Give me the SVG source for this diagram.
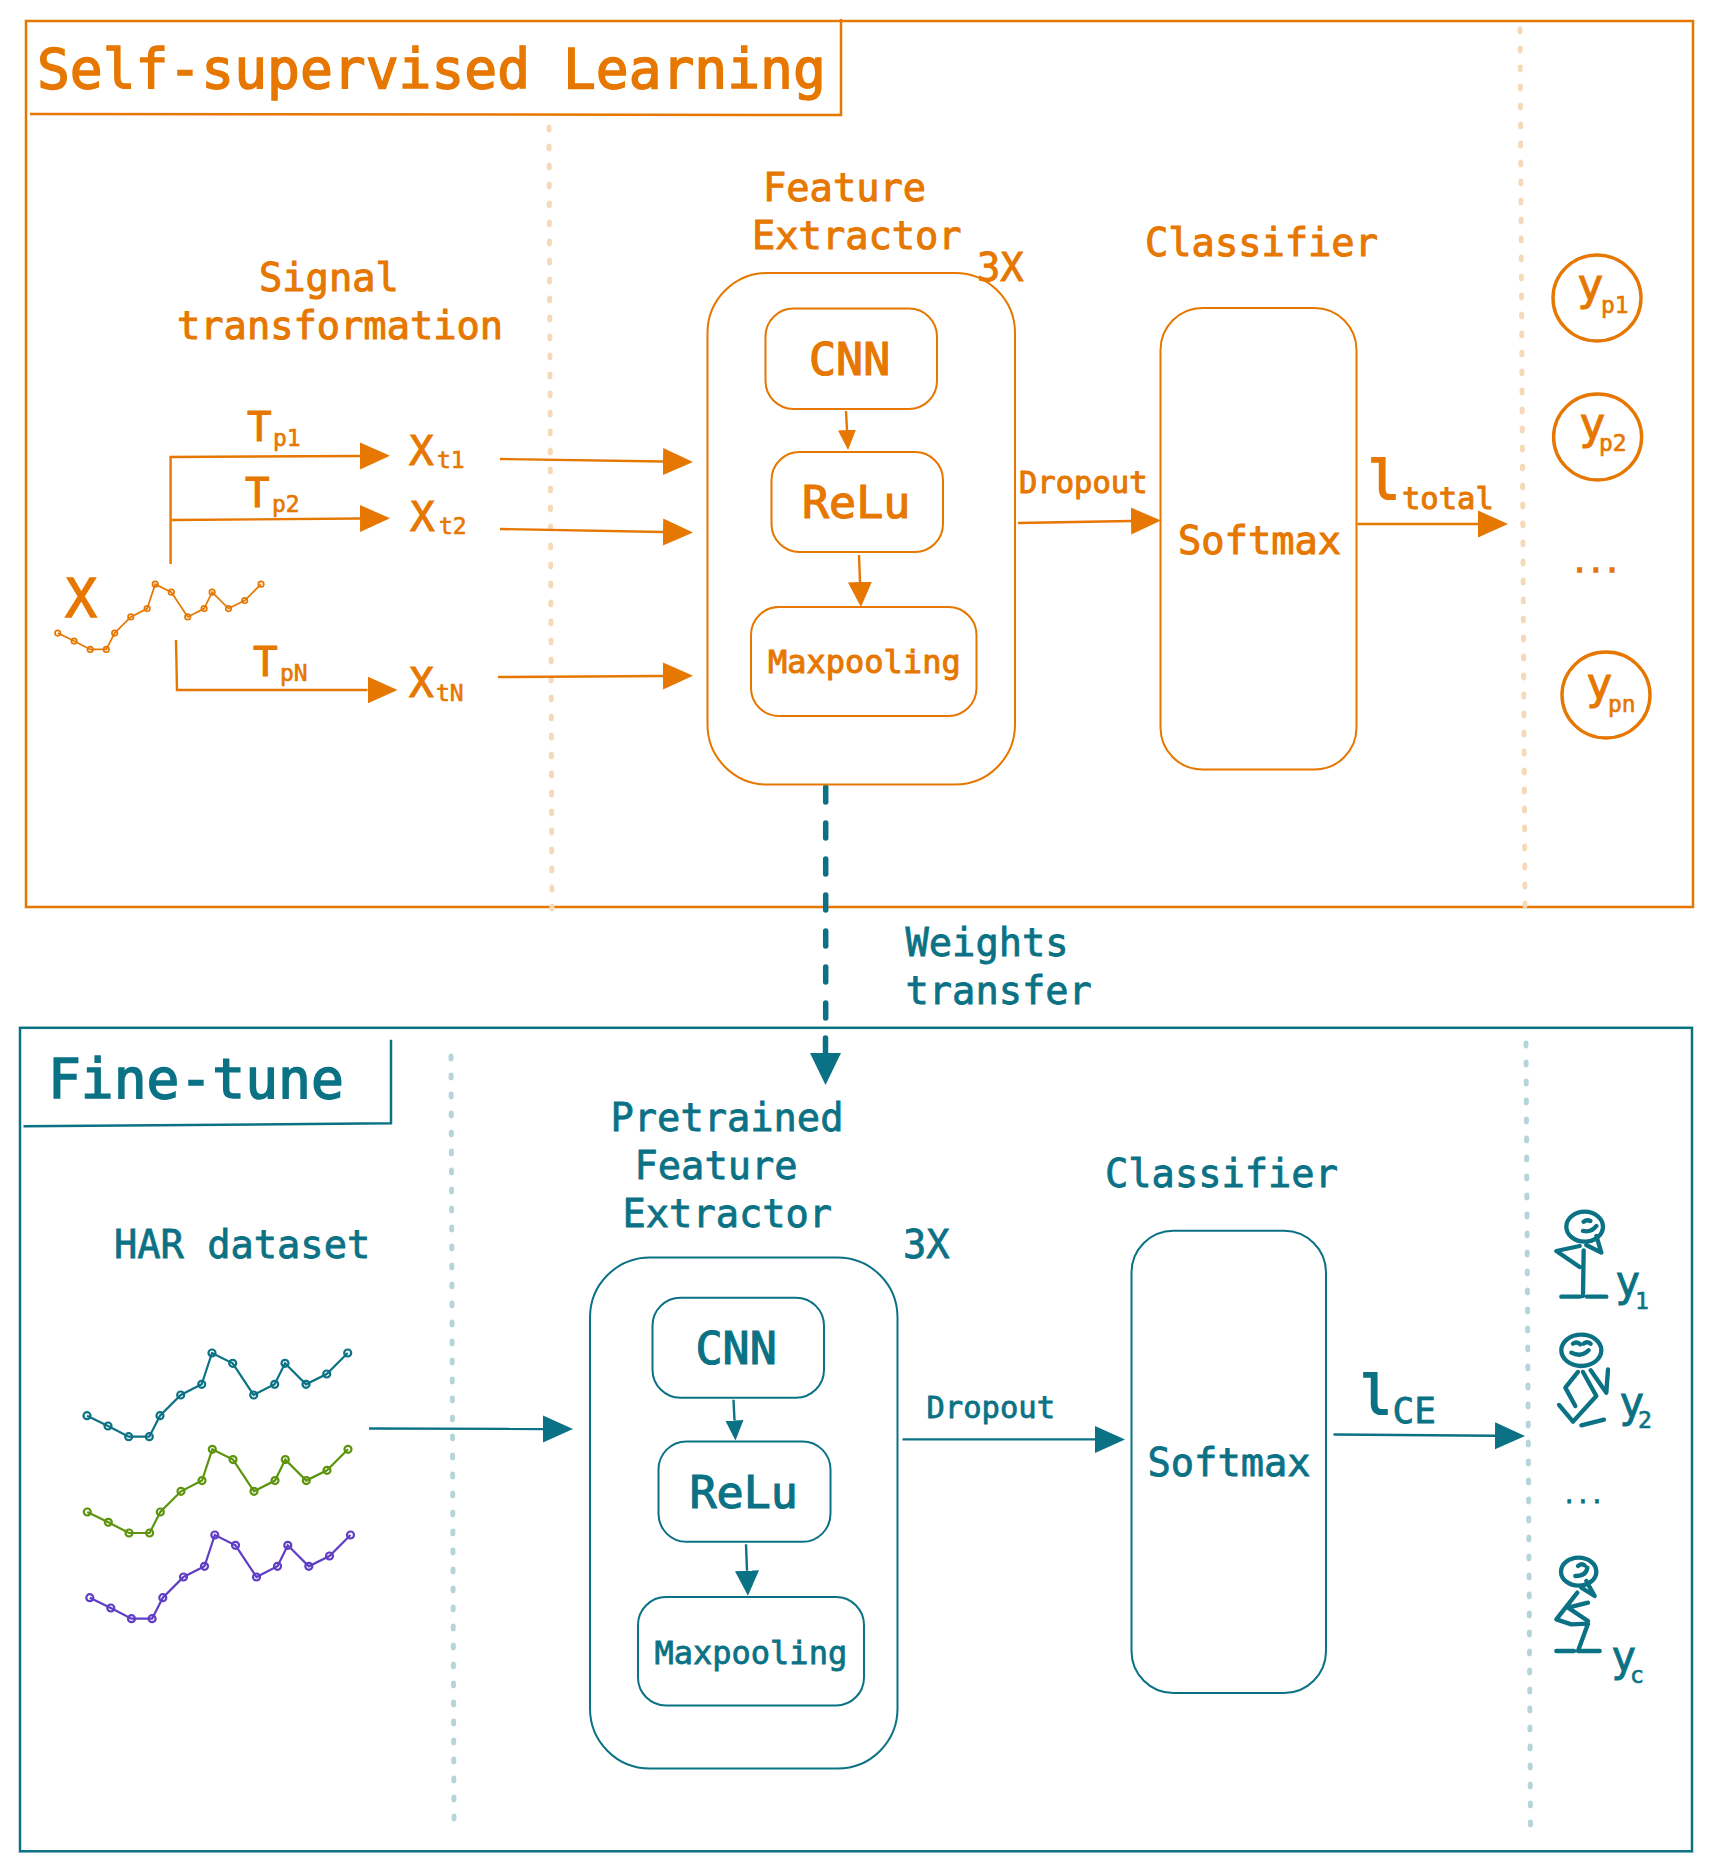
<svg xmlns="http://www.w3.org/2000/svg" width="1714" height="1871" viewBox="0 0 1714 1871">
<style>
text{font-family:"DejaVu Sans Mono","Liberation Mono",monospace;white-space:pre}
.o{fill:#e67700;stroke:#e67700;stroke-width:1}
.t{fill:#0b7285;stroke:#0b7285;stroke-width:.8}
.title{font-size:54.6px;stroke-width:1.5}
.lab{font-size:38.7px}
.cnn{font-size:45px;stroke-width:1.2}
.mp{font-size:32px}
.dr{font-size:30.5px}
.m{font-size:41px}
.s{font-size:23px;stroke-width:.6}
.big{font-size:53px;stroke-width:2}
.y{font-size:44px;stroke-width:1}
.box{fill:none;stroke-width:2}
.bo{stroke:#e67700}.bt{stroke:#0b7285}
.frame{fill:none;stroke-width:2.5}
.ln{fill:none;stroke-width:2.4}
.dot{fill:none;stroke-width:5;stroke-linecap:round;stroke-dasharray:3 16}
.do{stroke:#f6d9b8}.dt{stroke:#b6d5db}
.fig{fill:none;stroke:#0b7285;stroke-width:13;stroke-linecap:round;stroke-linejoin:round}
.circ{fill:none;stroke:#e67700;stroke-width:3.4}
</style>
<defs>
<marker id="ao" markerUnits="userSpaceOnUse" markerWidth="30" markerHeight="28" refX="0" refY="14" orient="auto"><path d="M0 .5L30 14L0 27.5Z" fill="#e67700"/></marker>
<marker id="aom" markerUnits="userSpaceOnUse" markerWidth="25" markerHeight="24" refX="0" refY="12" orient="auto"><path d="M0 0L25 12L0 24Z" fill="#e67700"/></marker>
<marker id="aos" markerUnits="userSpaceOnUse" markerWidth="20" markerHeight="18" refX="0" refY="9" orient="auto"><path d="M0 0L20 9L0 18Z" fill="#e67700"/></marker>
<marker id="at" markerUnits="userSpaceOnUse" markerWidth="30" markerHeight="28" refX="0" refY="14" orient="auto"><path d="M0 .5L30 14L0 27.5Z" fill="#0b7285"/></marker>
<marker id="atm" markerUnits="userSpaceOnUse" markerWidth="25" markerHeight="24" refX="0" refY="12" orient="auto"><path d="M0 0L25 12L0 24Z" fill="#0b7285"/></marker>
<marker id="ats" markerUnits="userSpaceOnUse" markerWidth="20" markerHeight="18" refX="0" refY="9" orient="auto"><path d="M0 0L20 9L0 18Z" fill="#0b7285"/></marker>
<g id="wave" fill="none" stroke-width="2.2">
<polyline points="87,1415.7 108,1426 128.7,1436.7 149.3,1436.7 160,1415.7 180.7,1395 201.7,1384.3 212,1353 232.7,1363.3 253.7,1395 274.7,1384.3 285,1363.3 306,1384.3 326.7,1374 347.7,1353"/>
<circle cx="87" cy="1415.7" r="3.5"/><circle cx="108" cy="1426" r="3.5"/><circle cx="128.7" cy="1436.7" r="3.5"/><circle cx="149.3" cy="1436.7" r="3.5"/><circle cx="160" cy="1415.7" r="3.5"/><circle cx="180.7" cy="1395" r="3.5"/><circle cx="201.7" cy="1384.3" r="3.5"/><circle cx="212" cy="1353" r="3.5"/><circle cx="232.7" cy="1363.3" r="3.5"/><circle cx="253.7" cy="1395" r="3.5"/><circle cx="274.7" cy="1384.3" r="3.5"/><circle cx="285" cy="1363.3" r="3.5"/><circle cx="306" cy="1384.3" r="3.5"/><circle cx="326.7" cy="1374" r="3.5"/><circle cx="347.7" cy="1353" r="3.5"/>
</g>
</defs>
<g id="self-supervised-frame">
<rect class="frame bo" x="26" y="21" width="1667" height="886"/>
<path class="frame bo" d="M30 114L841 115V19"/>
<text class="o title" x="37" y="88">Self-supervised Learning</text>
<path class="dot do" d="M549 127L552 912"/>
<path class="dot do" d="M1520 29L1525 906"/>
</g>
<g id="fine-tune-frame">
<rect class="frame bt" x="20" y="1027.8" width="1672" height="823.5"/>
<path class="frame bt" d="M23.5 1126.3L391 1123.3V1039.8"/>
<text class="t title" x="48" y="1098.4">Fine-tune</text>
<path class="dot dt" d="M451 1056L454 1820"/>
<path class="dot dt" d="M1526 1043L1530.5 1826"/>
</g>
<g id="connectors">
<g class="ln bo">
<path d="M170.6 564V457L360 456" marker-end="url(#ao)"/>
<path d="M172 520L360 518.5" marker-end="url(#ao)"/>
<path d="M176 640L177 690H367.5" marker-end="url(#ao)"/>
<path d="M500 459L663 461.5" marker-end="url(#ao)"/>
<path d="M500 529L663 532" marker-end="url(#ao)"/>
<path d="M498 677L663 676" marker-end="url(#ao)"/>
<path d="M846 411L847 430" marker-end="url(#aos)"/>
<path d="M859 555L860 582" marker-end="url(#aom)"/>
<path d="M1018 523L1131 521" marker-end="url(#ao)"/>
<path d="M1357.5 524H1478" marker-end="url(#ao)"/>
</g>
<g class="ln bt">
<path d="M369 1428.5L543 1429" marker-end="url(#at)"/>
<path d="M733.5 1399.7L734.5 1420.5" marker-end="url(#ats)"/>
<path d="M746 1544.3L747 1570.7" marker-end="url(#atm)"/>
<path d="M902.6 1439.4H1095" marker-end="url(#at)"/>
<path d="M1333.5 1434.5L1495 1435.8" marker-end="url(#at)"/>
<path d="M825.7 787V1020" style="stroke-width:5.5;stroke-linecap:round;stroke-dasharray:15 21"/>
<path d="M825.5 1038V1053" style="stroke-width:5.5;stroke-linecap:round"/>
<path d="M810 1053H841L825.5 1085Z" fill="#0b7285" stroke="none"/>
</g>
</g>
<g id="signal-transformation">
<text class="o lab" x="259" y="291">Signal</text>
<text class="o lab" x="177" y="339">transformation</text>
</g>
<g id="input-x">
<text class="o" style="font-size:53px;stroke-width:1.4" x="65" y="617">X</text>
<use href="#wave" stroke="#e67700" transform="translate(-10.16 -471.2) scale(.78)"/>
</g>
<g id="tp1"><text class="o m" x="247" y="441">T</text><text class="o s" x="273" y="446">p1</text></g>
<g id="tp2"><text class="o m" x="245" y="507">T</text><text class="o s" x="272" y="512">p2</text></g>
<g id="tpn"><text class="o m" x="253" y="676">T</text><text class="o s" x="280" y="681">pN</text></g>
<g id="xt1"><text class="o m" x="409" y="465">X</text><text class="o s" x="437" y="468">t1</text></g>
<g id="xt2"><text class="o m" x="410" y="531">X</text><text class="o s" x="439" y="534">t2</text></g>
<g id="xtn"><text class="o m" x="409" y="697">X</text><text class="o s" x="436" y="701">tN</text></g>
<g id="feature-extractor">
<text class="o lab" x="763" y="201">Feature</text>
<text class="o lab" x="752" y="249">Extractor</text>
<text class="o lab" x="977" y="281">3X</text>
<rect class="box bo" x="707.5" y="273" width="307.5" height="511.5" rx="60"/>
</g>
<g id="cnn-o"><rect class="box bo" x="765.5" y="308.5" width="171.5" height="100.5" rx="28"/><text class="o cnn" x="809" y="375">CNN</text></g>
<g id="relu-o"><rect class="box bo" x="771.5" y="452" width="171.5" height="100" rx="28"/><text class="o cnn" x="802" y="518">ReLu</text></g>
<g id="maxpool-o"><rect class="box bo" x="751" y="607" width="225.5" height="109" rx="28"/><text class="o mp" x="768" y="673">Maxpooling</text></g>
<g id="dropout-o"><text class="o dr" x="1019" y="493">Dropout</text></g>
<g id="classifier-o">
<text class="o lab" x="1145" y="256">Classifier</text>
<rect class="box bo" x="1160.5" y="308" width="196" height="461.5" rx="42"/>
<text class="o lab" x="1178" y="554">Softmax</text>
</g>
<g id="loss-total"><text class="o big" x="1368" y="499">l</text><text class="o dr" x="1402" y="509">total</text></g>
<g id="yp1"><ellipse class="circ" cx="1597" cy="298" rx="44" ry="43"/><text class="o y" x="1577" y="300">y</text><text class="o s" x="1601" y="313">p1</text></g>
<g id="yp2"><ellipse class="circ" cx="1597.6" cy="437" rx="44" ry="43"/><text class="o y" x="1579" y="439">y</text><text class="o s" x="1599" y="451">p2</text></g>
<g id="dots-o"><text class="o" style="font-size:27px;stroke-width:1.6" x="1596" y="572" text-anchor="middle">...</text></g>
<g id="ypn"><ellipse class="circ" cx="1606" cy="695" rx="44" ry="43"/><text class="o y" x="1586" y="699">y</text><text class="o s" x="1608" y="712">pn</text></g>
<g id="weights-transfer">
<text class="t lab" x="905.5" y="956">Weights</text>
<text class="t lab" x="905.5" y="1004">transfer</text>
</g>
<g id="har-dataset">
<text class="t lab" x="114" y="1257.5">HAR dataset</text>
<use href="#wave" stroke="#0b7285"/>
<use href="#wave" stroke="#5c940d" transform="translate(.3 96.3)"/>
<use href="#wave" stroke="#5f3dc4" transform="translate(2.8 182)"/>
</g>
<g id="pretrained-extractor">
<text class="t lab" x="610.5" y="1131">Pretrained</text>
<text class="t lab" x="634.5" y="1179">Feature</text>
<text class="t lab" x="622.5" y="1227">Extractor</text>
<text class="t lab" x="903" y="1257.5">3X</text>
<rect class="box bt" x="590" y="1257.5" width="307.5" height="511" rx="60"/>
</g>
<g id="cnn-t"><rect class="box bt" x="652.5" y="1297.7" width="171.5" height="100" rx="28"/><text class="t cnn" x="695.5" y="1364">CNN</text></g>
<g id="relu-t"><rect class="box bt" x="658.5" y="1441.4" width="172" height="100.4" rx="28"/><text class="t cnn" x="689.5" y="1508">ReLu</text></g>
<g id="maxpool-t"><rect class="box bt" x="638" y="1597.1" width="226" height="108.3" rx="28"/><text class="t mp" x="654.5" y="1664">Maxpooling</text></g>
<g id="dropout-t"><text class="t dr" x="926.5" y="1417.5">Dropout</text></g>
<g id="classifier-t">
<text class="t lab" x="1105" y="1187">Classifier</text>
<rect class="box bt" x="1131.5" y="1230.7" width="194.5" height="462.3" rx="42"/>
<text class="t lab" x="1147.5" y="1476">Softmax</text>
</g>
<g id="loss-ce"><text class="t big" x="1360" y="1413.6">l</text><text class="t" style="font-size:36px" x="1392.5" y="1422.5">CE</text></g>
<g id="y1">
<g class="fig" transform="translate(1518 1191) scale(.3333)">
<ellipse cx="200" cy="107" rx="55" ry="45"/>
<path d="M197 92Q207 85 217 90M195 120Q220 125 235 105M235 135L250 185L205 162M185 165L115 180L185 228M197 178L195 315M130 317H185M207 317H265"/>
</g>
<text class="t" style="font-size:42px" x="1615" y="1296">y</text><text class="t s" x="1635" y="1309">1</text>
</g>
<g id="y2">
<g class="fig" transform="translate(1518 1191) scale(.3333)">
<ellipse cx="190" cy="478" rx="60" ry="47"/>
<path d="M165 458Q175 450 187 460M197 458Q207 450 218 458M160 485Q190 500 212 478M180 543L142 590L172 645M195 543L235 615L165 692L123 642M218 538L265 605L270 535M190 703L258 686"/>
</g>
<text class="t" style="font-size:42px" x="1619" y="1417">y</text><text class="t s" x="1638" y="1428">2</text>
</g>
<g id="dots-t"><text class="t" style="font-size:23px" x="1583" y="1503" text-anchor="middle">...</text></g>
<g id="yc">
<g class="fig" transform="translate(1518 1531) scale(.3333)">
<ellipse cx="182" cy="122" rx="53" ry="42"/>
<path d="M180 105Q190 95 200 103M172 135Q205 135 208 110M205 150L230 195L190 170M178 185L115 265L160 280L210 278L180 360H245M210 215L150 230L210 270M115 360H168"/>
</g>
<text class="t" style="font-size:42px" x="1611" y="1671">y</text><text class="t s" x="1630" y="1683">c</text>
</g>
</svg>
